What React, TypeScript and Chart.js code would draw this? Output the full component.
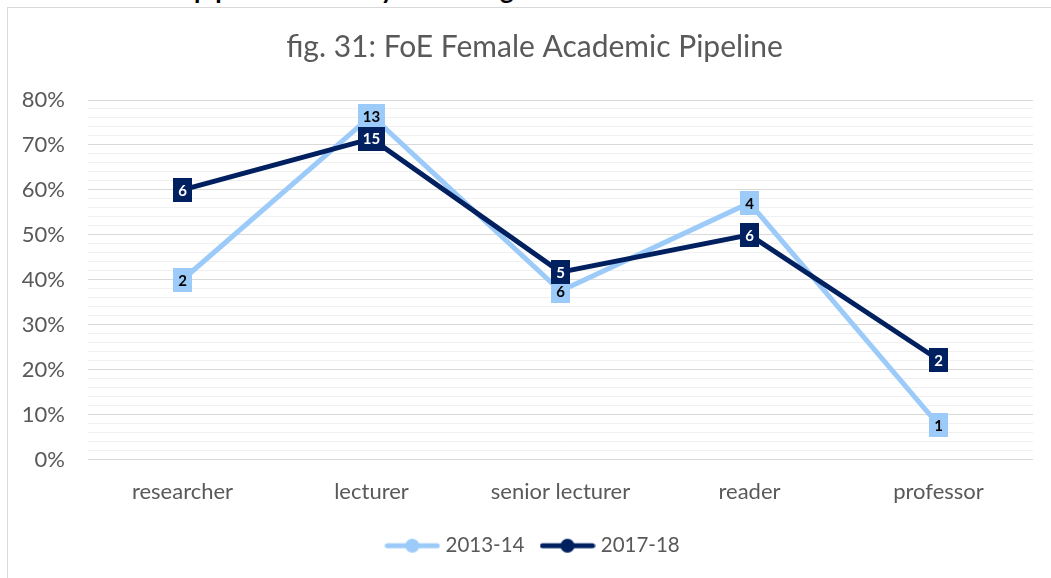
import React, { useEffect, useRef } from "react";
import { Chart, registerables } from "chart.js";

Chart.register(...registerables);

const categories = ["researcher", "lecturer", "senior lecturer", "reader", "professor"];
const seriesNames = ["2013-14", "2017-18"];
const pct2013 = [40, 76.5, 37.5, 57.1, 7.7];
const pct2018 = [60, 71.4, 41.7, 50, 22.2];
const count2013 = [2, 13, 6, 4, 1];
const count2018 = [6, 15, 5, 6, 2];
const yTickValues = [0, 10, 20, 30, 40, 50, 60, 70, 80];
const titleText = "fig. 31: FoE Female Academic Pipeline";

const LIGHT = "#9DCBF9";
const DARK = "#002060";
const TEXT = "#595959";
const FONT = "Lato, 'Open Sans', sans-serif";

function legendImage(color: string): HTMLCanvasElement {
  const c = document.createElement("canvas");
  c.width = 56;
  c.height = 16;
  const g = c.getContext("2d")!;
  g.strokeStyle = color;
  g.lineWidth = 5;
  g.lineCap = "round";
  g.beginPath();
  g.moveTo(3, 8);
  g.lineTo(53, 8);
  g.stroke();
  g.fillStyle = color;
  g.beginPath();
  g.arc(28, 8, 7, 0, Math.PI * 2);
  g.fill();
  return c;
}

const boxLabels = {
  id: "boxLabels",
  afterDatasetsDraw(chart: any) {
    const ctx = chart.ctx;
    const counts = [count2013, count2018];
    const fills = [LIGHT, DARK];
    const texts = ["#000000", "#FFFFFF"];
    ctx.save();
    ctx.font = `bold 15px ${FONT}`;
    ctx.textAlign = "center";
    ctx.textBaseline = "middle";
    [0, 1].forEach((di) => {
      const meta = chart.getDatasetMeta(di);
      meta.data.forEach((pt: any, i: number) => {
        const t = String(counts[di][i]);
        const w = ctx.measureText(t).width + 10;
        const h = 24;
        ctx.fillStyle = fills[di];
        ctx.fillRect(Math.round(pt.x - w / 2), Math.round(pt.y - h / 2), Math.round(w), h);
        ctx.fillStyle = texts[di];
        ctx.fillText(t, pt.x, pt.y + 1);
      });
    });
    ctx.restore();
  },
};

export default function App() {
  const ref = useRef<HTMLCanvasElement | null>(null);

  useEffect(() => {
    if (!ref.current) return;
    const imgs = [legendImage(LIGHT), legendImage(DARK)];
    const chart = new Chart(ref.current, {
      type: "line",
      data: {
        labels: categories,
        datasets: [
          {
            label: seriesNames[0],
            data: pct2013,
            borderColor: LIGHT,
            backgroundColor: LIGHT,
            borderWidth: 5,
            pointRadius: 0,
            pointStyle: imgs[0] as any,
            tension: 0,
            order: 1,
          },
          {
            label: seriesNames[1],
            data: pct2018,
            borderColor: DARK,
            backgroundColor: DARK,
            borderWidth: 5,
            pointRadius: 0,
            pointStyle: imgs[1] as any,
            tension: 0,
            order: 0,
          },
        ],
      },
      options: {
        responsive: false,
        animation: false,
        devicePixelRatio: 1,
        layout: { padding: { left: 18, right: 0, top: 0, bottom: 12 } },
        plugins: {
          tooltip: { enabled: false },
          title: {
            display: true,
            text: titleText,
            color: TEXT,
            font: { family: FONT, size: 30, weight: "normal" as any, lineHeight: 1.2 },
            padding: { top: 29, bottom: 35 },
          },
          legend: {
            position: "bottom",
            labels: {
              usePointStyle: true,
              pointStyleWidth: 46,
              padding: 20,
              color: TEXT,
              font: { family: FONT, size: 20.5 },
              sort: (a: any, b: any) => a.datasetIndex - b.datasetIndex,
            },
          },
        },
        scales: {
          x: {
            type: "category",
            offset: true,
            grid: { display: false, drawTicks: false },
            border: { display: false },
            ticks: { color: TEXT, font: { family: FONT, size: 22 }, padding: 19, maxRotation: 0 },
            afterFit: (s: any) => {
              s.height = 56;
            },
          },
          y: {
            min: 0,
            max: 80,
            grid: {
              drawTicks: false,
              color: (c: any) => (yTickValues.includes(c.tick?.value) ? "#D9D9D9" : "#F0F0F0"),
              lineWidth: 1,
            },
            border: { display: false },
            ticks: {
              stepSize: 2,
              autoSkip: false,
              color: TEXT,
              font: { family: FONT, size: 22 },
              padding: 23,
              callback: (v: any) => (yTickValues.includes(Number(v)) ? `${v}%` : ""),
            },
            afterFit: (s: any) => {
              s.width = 70;
            },
          },
          yRight: {
            position: "right",
            min: 0,
            max: 80,
            grid: { display: false, drawTicks: false },
            border: { display: false },
            ticks: { display: false },
            afterFit: (s: any) => {
              s.width = 18;
            },
          },
        },
      },
      plugins: [boxLabels],
    });
    return () => chart.destroy();
  }, []);

  const headStyle: React.CSSProperties = {
    position: "absolute",
    top: -24,
    fontFamily: FONT,
    fontWeight: 700,
    fontSize: 26,
    lineHeight: "26px",
    color: "#000",
    whiteSpace: "nowrap",
  };

  return (
    <div
      style={{
        position: "fixed",
        left: 0,
        top: 0,
        width: 1051,
        height: 578,
        overflow: "hidden",
        background: "#fff",
      }}
    >
      <span style={{ ...headStyle, left: 194 }}>pipeline</span>
      <span style={{ ...headStyle, left: 366 }}>by</span>
      <span style={{ ...headStyle, left: 500 }}>gender</span>
      <div
        style={{
          position: "absolute",
          left: 7,
          top: 7,
          width: 1100,
          height: 700,
          border: "1px solid #D9D9D9",
          boxSizing: "border-box",
        }}
      />
      <canvas
        ref={ref}
        width={1051}
        height={578}
        style={{ position: "absolute", left: 0, top: 0, width: 1051, height: 578 }}
      />
    </div>
  );
}
